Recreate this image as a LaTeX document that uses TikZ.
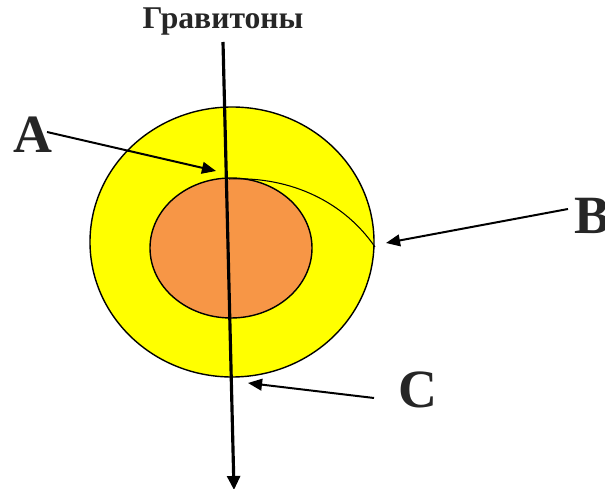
\documentclass[tikz,border=0pt]{standalone}
\usepackage{fontspec}
\setmainfont{Liberation Serif}
\usetikzlibrary{arrows.meta}
\definecolor{orng}{RGB}{247,150,70}
\definecolor{yel}{RGB}{255,255,0}
\definecolor{txt}{RGB}{38,38,38}
\begin{document}
\begin{tikzpicture}[x=0.03cm,y=-0.03cm,
  lbl/.style={font=\bfseries\fontsize{46}{50}\selectfont, text=txt, inner sep=0pt},
  ptr/.style={line width=1.7pt, -{Triangle[length=12pt,width=10pt]}},
  grav/.style={line width=2.7pt, -{Triangle[length=12pt,width=11pt]}}]
\useasboundingbox (0,0) rectangle (605,489);
\draw[fill=yel, line width=1.2pt] (232,242) ellipse [x radius=142, y radius=135];
\draw[fill=orng, line width=1.2pt] (231,248) ellipse [x radius=81, y radius=70];
\coordinate (p0) at (229,179);
\coordinate (p1) at (375,247);
\draw[line width=0.9pt] (p0) .. controls (292,176) and (345,203) .. (p1);
\node[font=\bfseries\fontsize{27}{30}\selectfont, text=txt] (g) at (223,22) {Гравитоны};
\coordinate (gt) at (223,42);
\coordinate (gb) at (234,490);
\draw[grav] (gt) -- (gb);
\node[lbl] (A) at (33,135) {A};
\node[lbl] (B) at (592,216) {B};
\node[lbl] (C) at (418,390) {C};
\coordinate (ta) at (216,171);
\coordinate (tb) at (386,243);
\coordinate (tc) at (248,383);
\draw[ptr] (47,132) -- (ta);
\draw[ptr] (568,209) -- (tb);
\draw[ptr] (374,398) -- (tc);
\end{tikzpicture}
\end{document}
